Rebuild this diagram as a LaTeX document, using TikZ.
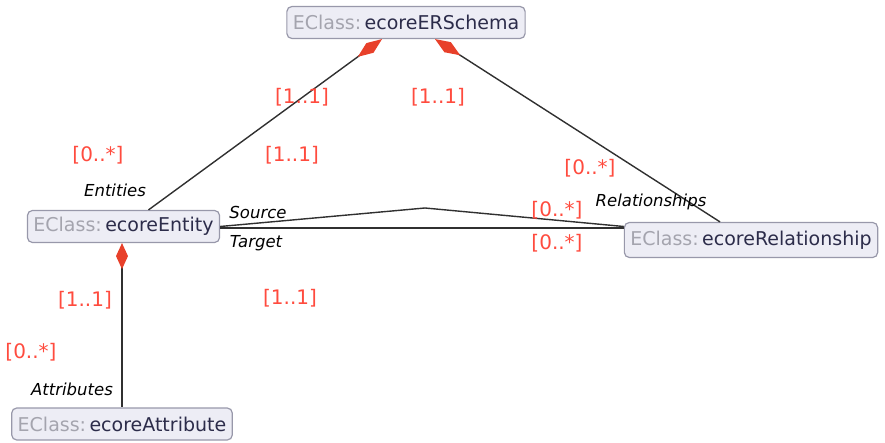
\documentclass[tikz,border=0pt]{standalone}
\usepackage{fontspec}
\setmainfont{DejaVu Sans}
\usetikzlibrary{arrows.meta}

\definecolor{boxfill}{HTML}{EDEDF5}
\definecolor{boxline}{HTML}{9898AA}
\definecolor{kindgray}{HTML}{A4A4AE}
\definecolor{namenavy}{HTML}{2C2C4A}
\definecolor{multred}{HTML}{FF4B3E}
\definecolor{diared}{HTML}{E8402A}
\definecolor{linkgray}{HTML}{303030}

\newcommand{\eclassname}[1]{\textcolor{kindgray}{EClass:}\hspace{0.18em}\textcolor{namenavy}{#1}}

\begin{document}
\begin{tikzpicture}[x=1pt,y=-1pt]
    \tikzset{
        eclass/.style={
            draw=boxline,line width=1.2pt,rounded corners=5pt,fill=boxfill,
            minimum height=32pt,inner xsep=6pt,
            font=\fontsize{19}{22}\selectfont
        },
        mult/.style={text=multred,font=\fontsize{20}{24}\selectfont},
        role/.style={font=\fontsize{16.5}{20}\selectfont\itshape},
        link/.style={draw=linkgray,line width=1.4pt},
        contain/.style={link,
            {Diamond[length=30pt,width=12pt,color=diared,fill=diared]}-}
    }
    \useasboundingbox (0,0) rectangle (885,443);

    \node[eclass] (schema) at (406,22.5) {\eclassname{ecoreERSchema}};
    \node[eclass] (entity) at (123.5,226.5) {\eclassname{ecoreEntity}};
    \node[eclass,minimum height=35pt] (relship) at (751,240)
        {\eclassname{ecoreRelationship}};
    \node[eclass] (attrib) at (122,424) {\eclassname{ecoreAttribute}};

    \coordinate (srcbend) at (425,208);

    \draw[contain] ([xshift=-24pt]schema.south) -- ([xshift=25pt]entity.north);
    \draw[contain] ([xshift=29pt]schema.south) -- ([xshift=-31pt]relship.north);
    \draw[contain,{Diamond[length=26pt,width=12pt,color=diared,fill=diared]}-]
        ([xshift=-1.5pt]entity.south) -- ([xshift=-1.5pt]entity.south |- attrib.north);
    \draw[link] (entity.east) -- (srcbend) -- (relship.west |- entity.east);
    \draw[link] ([yshift=-1.5pt]entity.east) -- ([yshift=-1.5pt]relship.west |- entity.east);

    \foreach \x/\y/\t [count=\i] in {302/97/{[1..1]},438/97/{[1..1]},
        98/155/{[0..*]},292/155/{[1..1]},590/168/{[0..*]},557/210/{[0..*]},
        557/243/{[0..*]},85/300/{[1..1]},290/298/{[1..1]},31/352/{[0..*]}}
        \node[mult] (mult\i) at (\x,\y) {\t};

    \node[role] (entities) at (115,190) {Entities};
    \node[role] (source) at (258,212) {Source};
    \node[role] (target) at (256,243) {Target};
    \node[role] (relships) at (651,202) {Relationships};
    \node[role] (attribs) at (72,389) {Attributes};
\end{tikzpicture}
\end{document}
